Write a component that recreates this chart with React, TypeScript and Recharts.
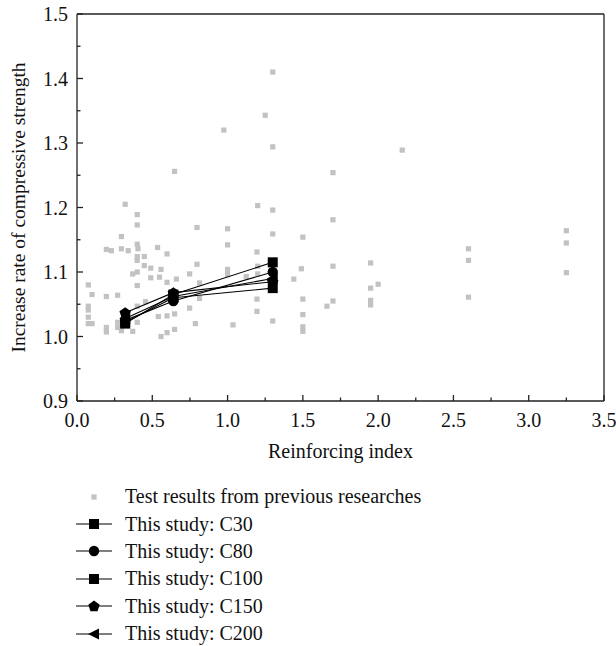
import { ScatterChart, Scatter, XAxis, YAxis, ReferenceLine, Label } from 'recharts';

// ─── Data ─────────────────────────────────────────────────────────────────────

const FONT = '"Liberation Serif", "Times New Roman", serif';

// Test results from previous researches: [reinforcing index, increase rate]
const previous: [number, number][] = [
  [0.075, 1.080], [0.10, 1.065], [0.075, 1.047], [0.075, 1.041], [0.075, 1.030],
  [0.075, 1.020], [0.10, 1.020],
  [0.195, 1.135], [0.195, 1.062], [0.195, 1.014], [0.195, 1.007], [0.228, 1.133],
  [0.27, 1.064], [0.27, 1.022], [0.27, 1.014],
  [0.295, 1.155], [0.295, 1.136], [0.295, 1.009], [0.32, 1.205], [0.34, 1.133],
  [0.37, 1.097], [0.37, 1.008],
  [0.40, 1.189], [0.40, 1.173], [0.40, 1.143], [0.40, 1.124], [0.40, 1.118],
  [0.40, 1.100], [0.40, 1.079], [0.40, 1.047], [0.40, 1.022], [0.405, 1.136],
  [0.447, 1.124], [0.447, 1.110], [0.455, 1.054],
  [0.49, 1.106], [0.49, 1.091], [0.535, 1.138], [0.54, 1.031], [0.548, 1.092],
  [0.558, 1.104], [0.558, 1.000],
  [0.598, 1.128], [0.598, 1.084], [0.598, 1.032], [0.598, 1.006],
  [0.648, 1.035], [0.648, 1.011], [0.648, 1.256], [0.66, 1.089],
  [0.748, 1.097], [0.748, 1.044], [0.786, 1.020], [0.797, 1.169], [0.797, 1.112],
  [0.814, 1.083], [0.814, 1.059],
  [0.975, 1.320], [1.0, 1.167], [1.0, 1.142], [1.0, 1.104], [1.0, 1.096],
  [1.036, 1.018], [1.124, 1.093],
  [1.195, 1.131], [1.195, 1.058], [1.195, 1.039], [1.20, 1.203], [1.20, 1.097],
  [1.20, 1.109], [1.25, 1.343],
  [1.30, 1.410], [1.30, 1.294], [1.30, 1.196], [1.30, 1.159], [1.30, 1.024],
  [1.44, 1.089], [1.49, 1.105],
  [1.50, 1.154], [1.50, 1.058], [1.50, 1.034], [1.50, 1.015], [1.50, 1.008],
  [1.66, 1.047], [1.70, 1.254], [1.70, 1.181], [1.70, 1.109], [1.70, 1.055],
  [1.95, 1.114], [1.95, 1.075], [1.95, 1.056], [1.95, 1.049], [2.0, 1.081],
  [2.16, 1.289],
  [2.60, 1.136], [2.60, 1.118], [2.60, 1.061],
  [3.25, 1.164], [3.25, 1.145], [3.25, 1.099],
];

// This study: reinforcing index of the three specimens and each concrete grade
const studyIndex = [0.32, 0.64, 1.3];
const c30  = [1.020, 1.065, 1.115];
const c80  = [1.025, 1.055, 1.100];
const c100 = [1.022, 1.060, 1.075];
const c150 = [1.037, 1.068, 1.085];
const c200 = [1.028, 1.062, 1.090];

const xTicks = [0, 0.25, 0.5, 0.75, 1, 1.25, 1.5, 1.75, 2, 2.25, 2.5, 2.75, 3, 3.25, 3.5];
const yTicks = [0.9, 0.95, 1.0, 1.05, 1.1, 1.15, 1.2, 1.25, 1.3, 1.35, 1.4, 1.45, 1.5];

const prevData = previous.map(([x, y]) => ({ x, y }));
const toPoints = (vals: number[]) => vals.map((y, i) => ({ x: studyIndex[i], y }));

// ─── Marker shapes ────────────────────────────────────────────────────────────

type Pt = { cx?: number; cy?: number };

const GraySquare = ({ cx = 0, cy = 0 }: Pt) => (
  <rect x={cx - 2.6} y={cy - 2.6} width={5.2} height={5.2} fill="#c2c2c2" />
);
const BlackSquare = ({ cx = 0, cy = 0 }: Pt) => (
  <rect x={cx - 5} y={cy - 5} width={10} height={10} fill="#000" />
);
const BlackCircle = ({ cx = 0, cy = 0 }: Pt) => <circle cx={cx} cy={cy} r={5.2} fill="#000" />;
const BlackPentagon = ({ cx = 0, cy = 0 }: Pt) => {
  const pts = [0, 1, 2, 3, 4].map((k) => {
    const a = -Math.PI / 2 + (k * 2 * Math.PI) / 5;
    return `${cx + 6 * Math.cos(a)},${cy + 6 * Math.sin(a) + 0.5}`;
  });
  return <polygon points={pts.join(' ')} fill="#000" />;
};
const BlackLeftTriangle = ({ cx = 0, cy = 0 }: Pt) => (
  <polygon points={`${cx - 6},${cy} ${cx + 5},${cy - 5.5} ${cx + 5},${cy + 5.5}`} fill="#000" />
);

const series = [
  { name: 'This study: C30', data: c30, Shape: BlackSquare },
  { name: 'This study: C80', data: c80, Shape: BlackCircle },
  { name: 'This study: C100', data: c100, Shape: BlackSquare },
  { name: 'This study: C150', data: c150, Shape: BlackPentagon },
  { name: 'This study: C200', data: c200, Shape: BlackLeftTriangle },
];

// ─── Ticks (major labelled, minor inside) ─────────────────────────────────────

// eslint-disable-next-line @typescript-eslint/no-explicit-any
function YTick({ x, y, payload, index }: any) {
  const major = index % 2 === 0;
  return (
    <g>
      <line x1={x} x2={x + (major ? 6 : 3.5)} y1={y} y2={y} stroke="#222" strokeWidth={1.3} />
      {major && (
        <text x={x - 9} y={y} dy={7} textAnchor="end" fontSize={20} fontFamily={FONT} fill="#111">
          {payload.value.toFixed(1)}
        </text>
      )}
    </g>
  );
}

// eslint-disable-next-line @typescript-eslint/no-explicit-any
function XTick({ x, y, payload, index }: any) {
  const major = index % 2 === 0;
  return (
    <g>
      <line x1={x} x2={x} y1={y} y2={y - (major ? 6 : 3.5)} stroke="#222" strokeWidth={1.3} />
      {major && (
        <text x={x} y={y} dy={26} textAnchor="middle" fontSize={20} fontFamily={FONT} fill="#111">
          {payload.value.toFixed(1)}
        </text>
      )}
    </g>
  );
}

// ─── Component ────────────────────────────────────────────────────────────────

export default function App() {
  return (
    <div style={{ position: 'absolute', left: 0, top: 0, width: 616, height: 646, background: '#fff' }}>
      <ScatterChart width={616} height={646} margin={{ top: 14, right: 12, bottom: 185, left: 0 }}>
        <XAxis
          type="number" dataKey="x" domain={[0, 3.5]} ticks={xTicks} interval={0}
          tick={<XTick />} tickLine={false} tickSize={0} tickMargin={0}
          stroke="#222" strokeWidth={1.3} height={60} allowDataOverflow
        >
          <Label value="Reinforcing index" position="insideBottom" offset={3}
            style={{ fontSize: 20, fontFamily: FONT, fill: '#111' }} />
        </XAxis>
        <YAxis
          type="number" dataKey="y" domain={[0.9, 1.5]} ticks={yTicks} interval={0}
          tick={<YTick />} tickLine={false} tickSize={0} tickMargin={0}
          stroke="#222" strokeWidth={1.3} width={77} allowDataOverflow
        >
          <Label value="Increase rate of compressive strength" angle={-90} position="insideLeft"
            offset={18} style={{ fontSize: 19.5, fontFamily: FONT, fill: '#111', textAnchor: 'middle' }} />
        </YAxis>
        <ReferenceLine y={1.5} stroke="#222" strokeWidth={1.3} />
        <ReferenceLine x={3.5} stroke="#222" strokeWidth={1.3} />

        <Scatter data={prevData} shape={<GraySquare />} isAnimationActive={false} />
        {series.map((s) => (
          <Scatter
            key={s.name}
            data={toPoints(s.data)}
            line={{ stroke: '#000', strokeWidth: 1.1 }}
            shape={<s.Shape />}
            fill="#000"
            isAnimationActive={false}
          />
        ))}
      </ScatterChart>

      {/* Legend below the plot */}
      <div style={{ position: 'absolute', left: 76, top: 483, fontFamily: FONT, fontSize: 20, color: '#111' }}>
        <div style={{ display: 'flex', alignItems: 'center', height: 27.4 }}>
          <svg width={36} height={16}>
            <GraySquare cx={18} cy={8} />
          </svg>
          <span style={{ marginLeft: 13 }}>Test results from previous researches</span>
        </div>
        {series.map((s) => (
          <div key={s.name} style={{ display: 'flex', alignItems: 'center', height: 27.4 }}>
            <svg width={36} height={16}>
              <line x1={0} x2={36} y1={8} y2={8} stroke="#000" strokeWidth={1.2} />
              <s.Shape cx={18} cy={8} />
            </svg>
            <span style={{ marginLeft: 13 }}>{s.name}</span>
          </div>
        ))}
      </div>
    </div>
  );
}
